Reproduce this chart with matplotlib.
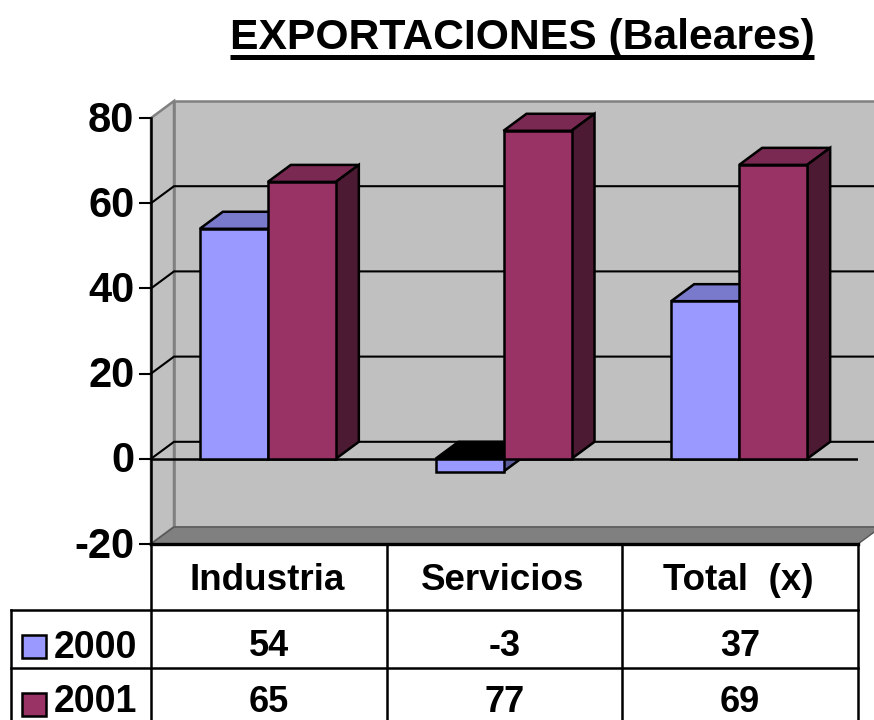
import matplotlib
matplotlib.use("Agg")
from matplotlib import pyplot as plt
from matplotlib.patches import Polygon, Rectangle
from matplotlib.transforms import ScaledTranslation

plt.rcParams['font.family'] = ['Liberation Sans', 'DejaVu Sans']
plt.rcParams['font.weight'] = 'bold'
plt.rcParams['axes.unicode_minus'] = False

# data
categories = ['Industria', 'Servicios', 'Total  (x)']
years = ['2000', '2001']
values_2000 = [54, -3, 37]
values_2001 = [65, 77, 69]
y_ticks = [-20, 0, 20, 40, 60, 80]
title = 'EXPORTACIONES (Baleares)'

W, H = 874, 720
fig = plt.figure(figsize=(W / 100, H / 100), dpi=100)

# pixel overlay for title and table
ov = fig.add_axes([0, 0, 1, 1], zorder=3)
ov.set_xlim(0, W)
ov.set_ylim(H, 0)
ov.axis('off')
ov.patch.set_alpha(0)

# plot area
left, right, top, bottom = 151, 858, 118, 544
ax = fig.add_axes([left / W, 1 - bottom / H, (right - left) / W, (bottom - top) / H], zorder=2)
ax.set_xlim(0, 3)
ax.set_ylim(-20, 80)
ax.patch.set_alpha(0)
for s in ax.spines.values():
    s.set_visible(False)

# depth of the fake 3d, in data units
dx = 23 / (right - left) * 3
dy = 17 / (bottom - top) * 100

wall = '#C0C0C0'
edge = '#808080'

# walls and floor
ax.add_patch(Polygon([(dx, -20 + dy), (3 + 2 * dx, -20 + dy), (3 + 2 * dx, 80 + dy), (dx, 80 + dy)],
                     fc=wall, ec=edge, lw=1.8, clip_on=False, zorder=1))
ax.add_patch(Polygon([(0, -20), (dx, -20 + dy), (dx, 80 + dy), (0, 80)],
                     fc=wall, ec=edge, lw=1.8, clip_on=False, zorder=1))
ax.add_patch(Polygon([(0, -20), (3, -20), (3 + dx, -20 + dy), (dx, -20 + dy)],
                     fc=edge, ec='#555555', lw=1, clip_on=False, zorder=1))

# gridlines on the wall
for v in y_ticks[1:-1]:
    ax.plot([0, dx, 3 + 2 * dx], [v, v + dy, v + dy], color='black', lw=1.5, clip_on=False, zorder=2)


def bar3d(x, w, v, front, topc, side, z):
    lo, hi = min(v, 0), max(v, 0)
    ax.bar(x, v, w, align='edge', color=front, edgecolor='black', lw=1.8, zorder=z + 0.2)
    cap = 'black' if v < 0 else topc
    ax.add_patch(Polygon([(x, hi), (x + w, hi), (x + w + dx, hi + dy), (x + dx, hi + dy)],
                         fc=cap, ec='black', lw=1.8, zorder=z, clip_on=False))
    ax.add_patch(Polygon([(x + w, lo), (x + w + dx, lo + dy), (x + w + dx, hi + dy), (x + w, hi)],
                         fc=side, ec='black', lw=1.8, zorder=z, clip_on=False))


bw = 68 / (right - left) * 3
gap = (1 - 2 * bw) / 2 - 1 / (right - left) * 3
for i in range(len(categories)):
    bar3d(i + gap, bw, values_2000[i], '#9999FF', '#7A7ACC', '#5C5C99', 4 + i)
    bar3d(i + gap + bw, bw, values_2001[i], '#993366', '#7A2952', '#4D1A33', 4.5 + i)

# zero line and axis
ax.plot([0, 3], [0, 0], color='black', lw=1.8, zorder=3.5)
ax.set_xticks([])
ax.set_yticks(y_ticks)
ax.tick_params(axis='y', length=9, width=1.5, pad=3, labelsize=30)
shift = ScaledTranslation(0, 2 / 100, fig.dpi_scale_trans)
for lab in ax.get_yticklabels():
    lab.set_transform(lab.get_transform() + shift)
ax.plot([0, 3], [-20, -20], color='black', lw=2.4, clip_on=False, zorder=3)
ax.plot([0, 0], [-20, 80], color='black', lw=1.8, clip_on=False, zorder=3)

# title, underlined
t = ov.text(522, 49.5, title, fontsize=30.7, ha='center', va='baseline')
fig.canvas.draw()
bb = t.get_window_extent().transformed(ov.transData.inverted())
ov.plot([bb.x0, bb.x1], [56.5, 56.5], color='black', lw=3.6, solid_capstyle='butt')

# data table
ln = dict(color='black', lw=1.8, solid_capstyle='projecting')
col_x = [151, 387, 622, 858]
for x in col_x:
    ov.plot([x, x], [544, 722], clip_on=True, **ln)
ov.plot([11, 11], [610, 722], clip_on=True, **ln)
for y in [610, 668]:
    ov.plot([11, 858], [y, y], **ln)

for i, c in enumerate(categories):
    xc = (col_x[i] + col_x[i + 1]) / 2
    ov.text(xc - 2, 590, c, fontsize=26.5, ha='center', va='baseline')
    ov.text(xc, 656.5, str(values_2000[i]), fontsize=26, ha='center', va='baseline')
    ov.text(xc, 712, str(values_2001[i]), fontsize=26, ha='center', va='baseline')

ov.add_patch(Rectangle((22, 635), 24, 23, fc='#9999FF', ec='black', lw=1.8))
ov.add_patch(Rectangle((22, 693), 24, 23, fc='#993366', ec='black', lw=1.8))
ov.text(54, 658, years[0], fontsize=27, ha='left', va='baseline')
ov.text(54, 711.5, years[1], fontsize=27, ha='left', va='baseline')

fig.savefig('out.png', dpi=100)
